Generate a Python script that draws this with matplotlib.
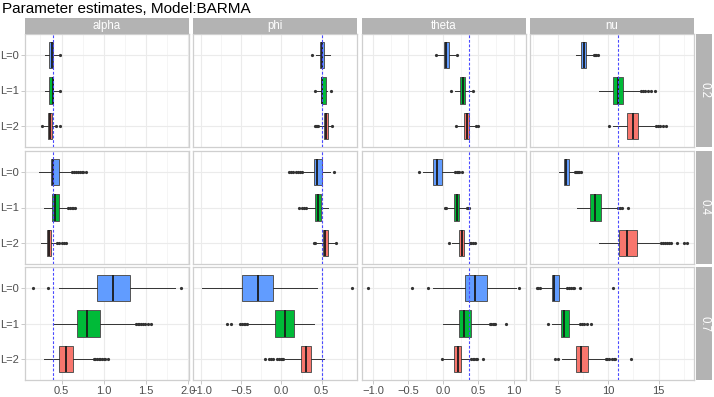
import matplotlib
matplotlib.use("Agg")
import matplotlib.pyplot as plt

plt.rcParams['font.family'] = ['Liberation Sans', 'DejaVu Sans']

W, H = 714, 397

params = ["alpha", "phi", "theta", "nu"]
rows = ["0.2", "0.4", "0.7"]
levels = ["L=0", "L=1", "L=2"]
true_vals = [0.4, 0.5, 0.37, 11.0]
fills = ["#619CFF", "#00BA38", "#F8766D"]

# box stats per level: [whisker low, q1, median, q3, whisker high]
alpha_02 = [[0.30, 0.355, 0.39, 0.405, 0.46], [0.30, 0.355, 0.40, 0.405, 0.46], [0.29, 0.34, 0.36, 0.385, 0.42]]
alpha_02_out = [[0.48], [0.485], [0.27, 0.44, 0.48]]
phi_02 = [[0.43, 0.48, 0.50, 0.53, 0.60], [0.44, 0.50, 0.51, 0.555, 0.57], [0.47, 0.535, 0.55, 0.575, 0.60]]
phi_02_out = [[0.38], [0.42, 0.62], [0.42, 0.43, 0.44, 0.46, 0.63]]
theta_02 = [[-0.08, 0.005, 0.04, 0.075, 0.17], [0.16, 0.24, 0.28, 0.31, 0.39], [0.20, 0.29, 0.335, 0.36, 0.44]]
theta_02_out = [[-0.11, 0.19], [0.11, 0.42], [0.18, 0.47, 0.49]]
nu_02 = [[6.75, 7.32, 7.58, 7.81, 8.45], [9.1, 10.45, 11.0, 11.5, 13.2], [10.45, 11.9, 12.45, 13.0, 14.6]]
nu_02_out = [[8.6, 8.7, 8.8, 9.0], [13.3, 13.5, 13.7, 13.9, 14.2, 14.6], [10.1, 14.7, 14.9, 15.1, 15.4, 15.7]]

alpha_04 = [[0.235, 0.373, 0.40, 0.474, 0.60], [0.29, 0.39, 0.424, 0.47, 0.57], [0.26, 0.326, 0.356, 0.376, 0.44]]
alpha_04_out = [[0.62, 0.65, 0.67, 0.70, 0.72, 0.74, 0.76, 0.79], [0.58, 0.60, 0.62, 0.64, 0.66], [0.45, 0.47, 0.50, 0.53, 0.55]]
phi_04 = [[0.25, 0.40, 0.446, 0.50, 0.60], [0.33, 0.417, 0.458, 0.49, 0.58], [0.44, 0.52, 0.54, 0.58, 0.66]]
phi_04_out = [[0.10, 0.12, 0.15, 0.18, 0.20, 0.23, 0.25, 0.65], [0.22, 0.25, 0.28, 0.30], [0.40, 0.42, 0.68]]
theta_04 = [[-0.29, -0.142, -0.09, -0.024, 0.15], [0.06, 0.146, 0.19, 0.227, 0.32], [0.12, 0.217, 0.26, 0.298, 0.37]]
theta_04_out = [[-0.34, 0.17, 0.19, 0.21, 0.23, 0.26], [0.02, 0.04, 0.33, 0.35, 0.37], [0.085, 0.38, 0.40, 0.42, 0.45]]
nu_04 = [[5.07, 5.56, 5.76, 6.09, 6.6], [6.9, 8.2, 8.63, 9.3, 10.9], [9.06, 11.1, 11.87, 12.86, 15.1]]
nu_04_out = [[6.7, 6.8, 6.9, 7.0, 7.1, 7.25], [11.0, 11.2, 11.4, 12.0],
             [15.2, 15.4, 15.6, 15.8, 16.0, 16.2, 16.8, 17.5, 17.8]]

alpha_07 = [[0.47, 0.92, 1.11, 1.31, 1.84], [0.40, 0.68, 0.80, 0.96, 1.36], [0.29, 0.475, 0.553, 0.64, 0.87]]
alpha_07_out = [[0.16, 0.345, 1.92], [1.38, 1.40, 1.42, 1.44, 1.46, 1.49, 1.52, 1.56],
                [0.88, 0.90, 0.92, 0.94, 0.96, 0.98, 1.00, 1.02, 1.05]]
phi_07 = [[-0.99, -0.49, -0.29, -0.10, 0.44], [-0.42, -0.075, 0.04, 0.154, 0.40], [0.04, 0.24, 0.30, 0.366, 0.53]]
phi_07_out = [[0.88], [-0.675, -0.625, -0.52, -0.49, -0.47, -0.45, -0.43],
              [-0.21, -0.16, -0.13, -0.11, -0.06, -0.03, -0.01, 0.01, 0.02]]
theta_07 = [[-0.15, 0.307, 0.454, 0.615, 1.04], [-0.01, 0.217, 0.298, 0.39, 0.65], [-0.01, 0.156, 0.203, 0.25, 0.39]]
theta_07_out = [[-1.07, -0.44, -0.22, 1.07], [0.66, 0.68, 0.70, 0.72, 0.74, 0.89], [-0.015, 0.40, 0.42, 0.44, 0.46, 0.48, 0.56]]
nu_07 = [[3.36, 4.4, 4.6, 5.07, 5.83], [4.35, 5.27, 5.56, 6.06, 7.15], [5.4, 6.82, 7.32, 7.97, 9.62]]
nu_07_out = [[2.86, 3.0, 3.2, 5.9, 6.1, 6.3, 6.5, 6.6, 7.2, 10.5], [3.95, 7.2, 7.4, 7.6, 7.9, 8.3],
             [4.7, 5.0, 9.8, 9.9, 10.1, 10.4, 10.6, 10.7, 12.3]]

boxes = [[alpha_02, phi_02, theta_02, nu_02],
         [alpha_04, phi_04, theta_04, nu_04],
         [alpha_07, phi_07, theta_07, nu_07]]
outs = [[alpha_02_out, phi_02_out, theta_02_out, nu_02_out],
        [alpha_04_out, phi_04_out, theta_04_out, nu_04_out],
        [alpha_07_out, phi_07_out, theta_07_out, nu_07_out]]

xlims = [(0.068, 2.009), (-1.1, 0.94), (-1.155, 1.175), (2.2, 18.53)]
xticks = [[0.5, 1.0, 1.5, 2.0], [-1.0, -0.5, 0.0, 0.5], [-1.0, -0.5, 0.0, 0.5, 1.0], [5, 10, 15]]
xminor = [[0.25, 0.75, 1.25, 1.75], [-0.75, -0.25, 0.25, 0.75], [-0.75, -0.25, 0.25, 0.75], [2.5, 7.5, 12.5, 17.5]]

col_left = [25, 193, 362, 530]
col_w = 164
row_top = [34, 151, 267]
row_h = 113

fig = plt.figure(figsize=(W / 100, H / 100), dpi=100)


def px_axes(x, y, w, h):
    return fig.add_axes([x / W, 1 - (y + h) / H, w / W, h / H])


grey70 = "#B3B3B3"
positions = [3, 2, 1]

for r in range(3):
    for c in range(4):
        ax = px_axes(col_left[c], row_top[r], col_w, row_h)
        stats = []
        for k in range(3):
            lo, q1, med, q3, hi = boxes[r][c][k]
            stats.append(dict(whislo=lo, q1=q1, med=med, q3=q3, whishi=hi, fliers=outs[r][c][k]))
        bp = ax.bxp(stats, positions=positions, widths=0.75, orientation="horizontal",
                    patch_artist=True, showcaps=False,
                    boxprops=dict(edgecolor="#555555", linewidth=0.7),
                    whiskerprops=dict(color="#333333", linewidth=0.7),
                    medianprops=dict(color="#1a1a1a", linewidth=1.3),
                    flierprops=dict(marker="o", markersize=2.3, markerfacecolor="#333333",
                                    markeredgecolor="none"))
        for patch, fc in zip(bp["boxes"], fills):
            patch.set_facecolor(fc)
        ax.axvline(true_vals[c], color="#4a4aff", linestyle=(0, (2.5, 1.6)), linewidth=0.8, zorder=5)

        ax.set_xlim(*xlims[c])
        ax.set_ylim(0.4, 3.6)
        ax.set_xticks(xticks[c])
        ax.set_xticks(xminor[c], minor=True)
        ax.set_yticks(positions)
        ax.set_yticklabels(levels)
        ax.set_axisbelow(True)
        ax.grid(True, which="major", color="#EBEBEB", linewidth=0.8)
        ax.grid(True, which="minor", axis="x", color="#F2F2F2", linewidth=0.5)
        for s in ax.spines.values():
            s.set_color("#CFCFCF")
            s.set_linewidth(0.9)
        ax.tick_params(which="both", color=grey70, width=0.5, length=2.75, labelsize=8,
                       labelcolor="#4D4D4D", pad=1.5)
        ax.tick_params(which="minor", length=0)
        if r < 2:
            ax.tick_params(axis="x", which="major", length=0, labelbottom=False)
        if c > 0:
            ax.tick_params(axis="y", length=0, labelleft=False)

# strips
for c in range(4):
    sa = px_axes(col_left[c], 18, col_w, 16)
    sa.set_facecolor(grey70)
    sa.set_xticks([])
    sa.set_yticks([])
    for s in sa.spines.values():
        s.set_visible(False)
    sa.text(0.5, 0.5, params[c], color="white", fontsize=8.3, ha="center", va="center",
            transform=sa.transAxes)

for r in range(3):
    sa = px_axes(696, row_top[r], 16, row_h)
    sa.set_facecolor(grey70)
    sa.set_xticks([])
    sa.set_yticks([])
    for s in sa.spines.values():
        s.set_visible(False)
    sa.text(0.5, 0.5, rows[r], color="white", fontsize=8.3, ha="center", va="center",
            rotation=-90, transform=sa.transAxes)

fig.text(2 / W, 1 - 9 / H, "Parameter estimates, Model:BARMA", fontsize=11, ha="left", va="center",
         color="black")

fig.savefig("out.png", dpi=100)
